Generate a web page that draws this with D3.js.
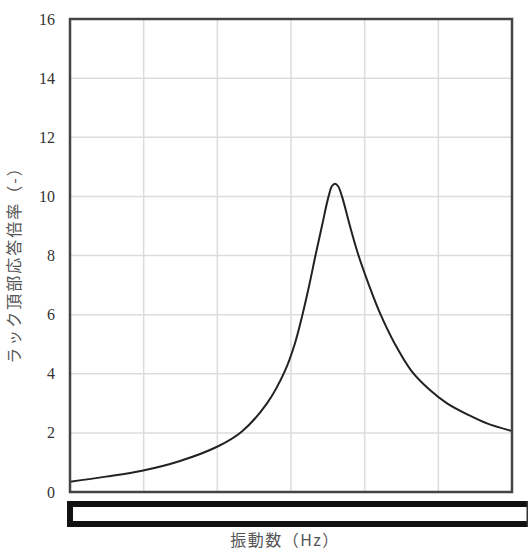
<!DOCTYPE html>
<html><head><meta charset="utf-8">
<script src="https://cdn.jsdelivr.net/npm/d3@7"></script>
<style>body{margin:0;background:#fff}</style>
</head><body>
<svg id="c" width="530" height="556"></svg>
<script>
const freqHz = [0,2.44,4.89,7.47,9.98,11.67,13.37,14.59,15.25,15.78,16.24,16.66,17.10,17.55,17.78,17.99,18.19,18.46,19.0,19.55,20.29,21.04,22.06,23.17,24.43,25.59,27.15,28.30,30.0];
const response = [0.35,0.52,0.72,1.05,1.53,2.05,3.0,4.1,5.0,6.0,7.0,8.0,9.0,10.0,10.35,10.43,10.35,10.0,9.0,8.05,7.0,6.05,5.0,4.1,3.45,3.0,2.58,2.32,2.06];
const yTicks = [0,2,4,6,8,10,12,14,16];
const xTicks = [0,5,10,15,20,25,30];
const yLabel = "ラック頂部応答倍率（-）";
const xLabel = "振動数（Hz）";

const svg = d3.select("#c");
const L=70,R=512,T=19,B=492;
const x = d3.scaleLinear().domain([0,30]).range([L,R]);
const y = d3.scaleLinear().domain([0,16]).range([B,T]);

// grid
svg.append("g").selectAll("line").data(yTicks.slice(1,-1)).join("line")
  .attr("x1",L).attr("x2",R).attr("y1",d=>y(d)).attr("y2",d=>y(d))
  .attr("stroke","#dcdcdc").attr("stroke-width",1.5);
svg.append("g").selectAll("line").data(xTicks.slice(1,-1)).join("line")
  .attr("y1",T).attr("y2",B).attr("x1",d=>x(d)).attr("x2",d=>x(d))
  .attr("stroke","#dcdcdc").attr("stroke-width",1.5);

// y axis labels
svg.append("g").selectAll("text").data(yTicks).join("text")
  .attr("x",55).attr("y",d=>y(d)).attr("dy","0.35em")
  .attr("text-anchor","end").attr("font-family","Liberation Serif, DejaVu Serif, serif")
  .attr("font-size",16).attr("fill","#333").text(d=>d);

// curve
svg.append("path").datum(freqHz.map((f,i)=>[f,response[i]]))
  .attr("d",d3.line().x(d=>x(d[0])).y(d=>y(d[1])).curve(d3.curveCatmullRom.alpha(0.5)))
  .attr("fill","none").attr("stroke","#222").attr("stroke-width",2);

// frame
svg.append("rect").attr("x",L).attr("y",T).attr("width",R-L).attr("height",B-T)
  .attr("fill","none").attr("stroke","#444").attr("stroke-width",2.5);

// redaction box over x tick labels
const bx0=67,bx1=528,by0=501,by1=527;
svg.append("rect").attr("x",bx0).attr("y",by0).attr("width",bx1-bx0).attr("height",by1-by0).attr("fill","#fff");
svg.append("rect").attr("x",bx0).attr("y",by0).attr("width",bx1-bx0).attr("height",6).attr("fill","#111");
svg.append("rect").attr("x",bx0).attr("y",by1-6).attr("width",bx1-bx0).attr("height",6).attr("fill","#111");
svg.append("rect").attr("x",bx0).attr("y",by0).attr("width",6).attr("height",by1-by0).attr("fill","#111");
svg.append("rect").attr("x",bx1-1.5).attr("y",by0).attr("width",1.5).attr("height",by1-by0).attr("fill","#333");

// axis titles
svg.append("text").attr("transform","translate(20,261) rotate(-90)")
  .attr("text-anchor","middle").attr("font-family","Noto Sans CJK JP, sans-serif")
  .attr("font-size",16).attr("letter-spacing",2).attr("fill","#555").text(yLabel);
svg.append("text").attr("x",285).attr("y",546)
  .attr("text-anchor","middle").attr("font-family","Noto Sans CJK JP, sans-serif")
  .attr("font-size",16).attr("letter-spacing",1.5).attr("fill","#555").text(xLabel);
</script>
</body></html>
